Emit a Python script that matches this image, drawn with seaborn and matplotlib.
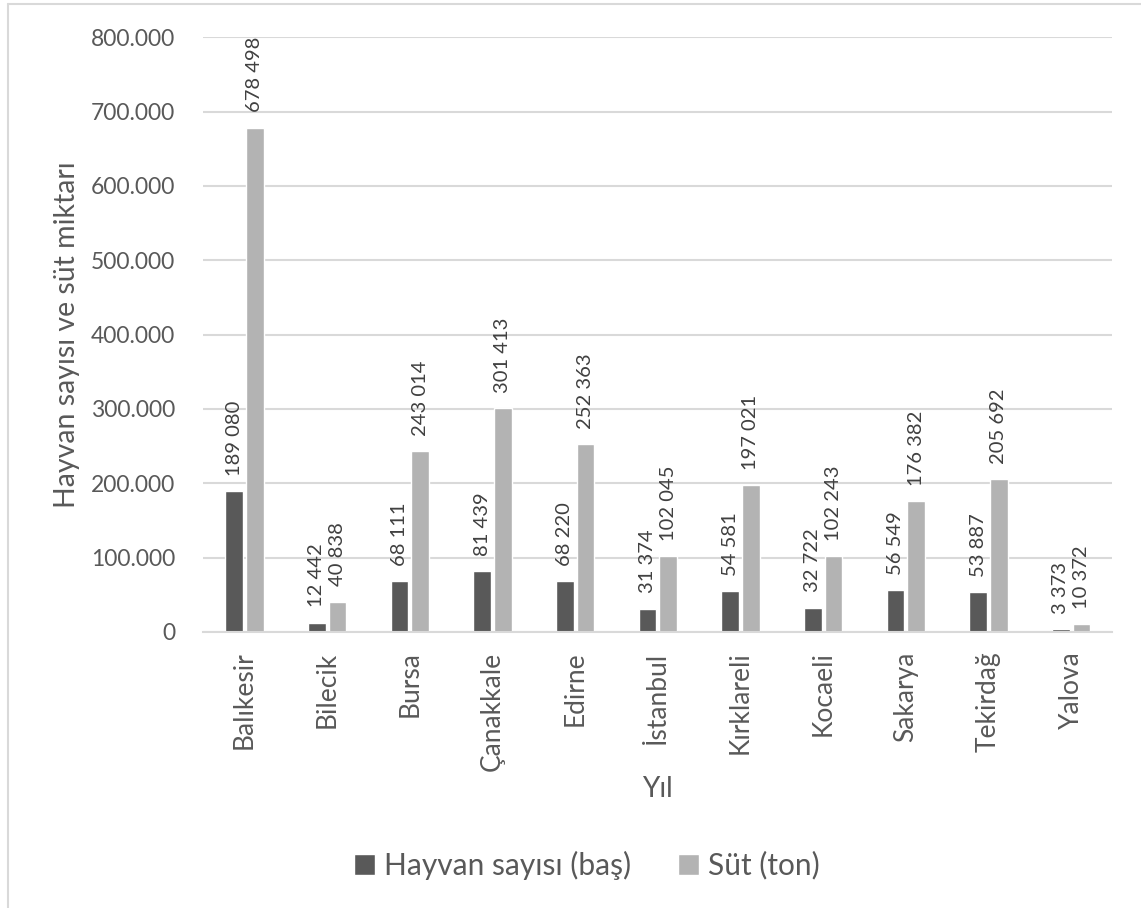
import matplotlib
matplotlib.use("Agg")
import matplotlib.pyplot as plt
from matplotlib.lines import Line2D
from matplotlib.ticker import FuncFormatter
import seaborn as sns
import pandas as pd

provinces = ["Balıkesir", "Bilecik", "Bursa", "Çanakkale", "Edirne", "İstanbul",
             "Kırklareli", "Kocaeli", "Sakarya", "Tekirdağ", "Yalova"]
hayvan = [189080, 12442, 68111, 81439, 68220, 31374, 54581, 32722, 56549, 53887, 3373]
sut = [678498, 40838, 243014, 301413, 252363, 102045, 197021, 102243, 176382, 205692, 10372]
series = ["Hayvan sayısı (baş)", "Süt (ton)"]
yticks = [0, 100000, 200000, 300000, 400000, 500000, 600000, 700000, 800000]

df = pd.DataFrame({
    "il": provinces * 2,
    "deger": hayvan + sut,
    "seri": [series[0]] * len(provinces) + [series[1]] * len(provinces),
})

sns.set_theme(style="white")
plt.rcParams["font.family"] = ["Lato", "DejaVu Sans"]
text_col = "#595959"

fig = plt.figure(figsize=(11.41, 9.08), dpi=100)
ax = fig.add_axes([0.178, 0.304, 0.797, 0.655])

sns.barplot(data=df, x="il", y="deger", hue="seri", order=provinces,
            hue_order=series, palette=["#595959", "#b3b3b3"],
            width=0.5, gap=0.15, ax=ax, legend=True, saturation=1)

for cont in ax.containers:
    for bar in cont:
        v = bar.get_height()
        ax.annotate(f"{int(v):,}".replace(",", " "),
                    (bar.get_x() + bar.get_width() / 2, v),
                    xytext=(0, 11), textcoords="offset points",
                    rotation=90, ha="center", va="bottom",
                    fontsize=14.5, color="#404040")

ax.set_ylim(0, 800000)
ax.set_xlim(-0.5, len(provinces) - 0.5)
ax.set_yticks(yticks)
ax.yaxis.set_major_formatter(FuncFormatter(
    lambda v, p: "0" if v == 0 else f"{int(v):,}".replace(",", ".")))
ax.grid(axis="y", color="#d9d9d9", linewidth=1.5)
ax.set_axisbelow(True)
for s in ["top", "right", "left"]:
    ax.spines[s].set_visible(False)
ax.spines["bottom"].set_color("#d9d9d9")
ax.spines["bottom"].set_linewidth(1.5)

ax.tick_params(axis="y", labelsize=16.5, labelcolor=text_col, length=0, pad=20)
ax.tick_params(axis="x", labelsize=19, labelcolor=text_col, length=0, pad=14,
               labelrotation=90)

ax.set_ylabel("Hayvan sayısı ve süt miktarı", fontsize=20.5, color=text_col, labelpad=8)
ax.set_xlabel("Yıl", fontsize=20, color=text_col, labelpad=4)

ax.legend(loc="center", bbox_to_anchor=(0.422, -0.392), ncol=2, frameon=False,
          fontsize=21.5, labelcolor=text_col, handlelength=0.7, handleheight=0.7,
          handletextpad=0.3, columnspacing=1.6)

# chart frame (left and top edges)
fig.add_artist(Line2D([8 / 1141, 8 / 1141], [0, 1 - 4 / 908],
                      transform=fig.transFigure, color="#d9d9d9", linewidth=1.5))
fig.add_artist(Line2D([8 / 1141, 1], [1 - 4 / 908, 1 - 4 / 908],
                      transform=fig.transFigure, color="#d9d9d9", linewidth=1.5))

fig.savefig("out.png", dpi=100, facecolor="white")
